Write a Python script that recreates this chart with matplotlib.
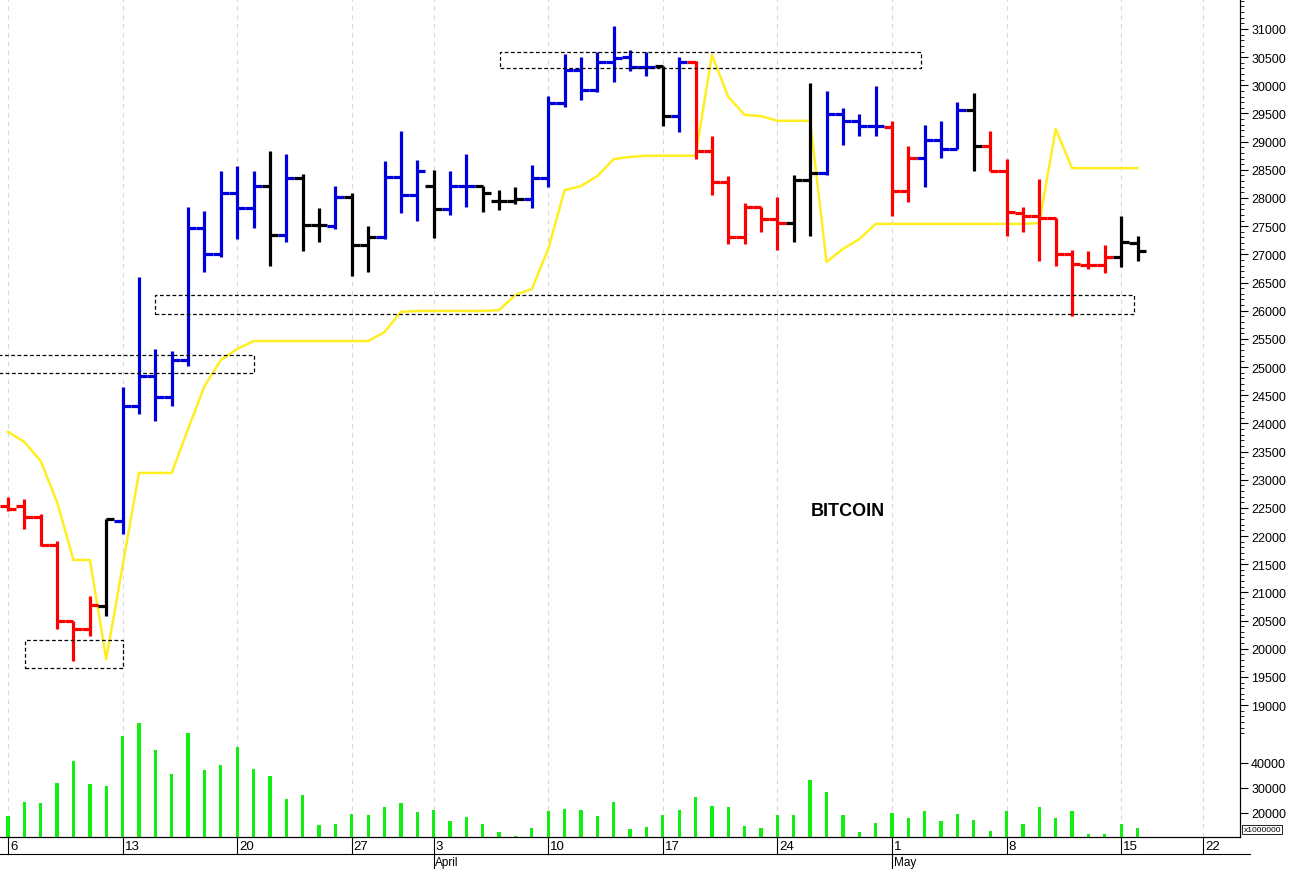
import matplotlib
matplotlib.use("Agg")
import matplotlib.pyplot as plt
import matplotlib.transforms as mtransforms
import numpy as np

plt.rcParams['font.family'] = ['Liberation Sans', 'DejaVu Sans']

opens  = [22530,22530,22340,21840,20490,20350,20760,22267,24310,24840,24470,25125,27470,27000,28090,27820,28210,27340,28355,27520,
          27500,28020,27165,27310,28370,28050,28210,27800,28210,28210,27945,27945,27980,28355,29690,30270,29920,30415,30500,30325,
          30345,29455,30415,28835,28285,27310,27840,27630,27555,28320,28445,29490,29365,29280,29260,28125,28710,29030,28870,29560,
          28920,28480,27735,27680,27645,27005,26810,26810,26950,27200]
highs  = [22690,22660,22390,21910,20490,20940,22300,24645,26600,25320,25285,27840,27770,28480,28570,28480,28835,28780,28430,27820,
          28210,28090,27500,28660,29190,28675,28500,28480,28780,28210,28140,28195,28590,29810,30560,30500,30590,31050,30625,30590,
          30345,30500,30430,29100,28390,27910,27840,28020,28410,30040,29900,29600,29490,29990,29370,28920,29300,29370,29700,29860,
          29190,28690,27840,28335,27645,27080,27060,27165,27680,27325]
lows   = [22440,22125,21820,20350,19780,20225,20580,22035,24165,24040,24310,25020,26690,26950,27270,27470,26790,27220,27060,27220,
          27450,26615,26690,27270,27735,27590,27290,27700,27840,27750,27790,27890,27820,28195,29615,29740,29880,30060,30255,30165,
          29280,29170,28690,28055,27185,27185,27395,27080,27220,27325,28410,28940,29100,29100,27680,27930,28195,28710,28870,28480,
          28480,27325,27395,26880,26790,25905,26740,26670,26775,26880]
closes = [22480,22340,21840,20490,20350,20776,22300,24310,24840,24470,25125,27470,27000,28090,27820,28210,27340,28355,27520,27520,
          28020,27165,27310,28370,28050,28480,27800,28210,28210,28090,27945,27980,28355,29690,30270,29920,30415,30485,30325,30325,
          29455,30415,28835,28285,27310,27840,27630,27555,28320,28445,29490,29365,29280,29280,28125,28710,29030,28870,29560,28920,
          28480,27750,27680,27645,27005,26830,26810,26950,27220,27060]
colors = (['r']*6 + ['k'] + ['b']*9 + ['k','b','k','k','b','k','k','b','b','b','k','b','b','k','k','k'] +
          ['b']*8 + ['k','b','r','r','r','r','r','r','k','k','b','b','b','b','r','r','b','b','b','k'] +
          ['r']*8 + ['k','k'])
yellow = [23850,23670,23330,22600,21575,21575,19815,21470,23120,23120,23120,23900,24660,25125,25320,25460,25460,25460,25460,25460,
          25460,25460,25460,25620,25980,25995,25995,25995,25995,25995,26010,26280,26385,27095,28140,28210,28390,28690,28730,28750,
          28750,28750,28750,30540,29795,29475,29455,29370,29370,29370,26865,27095,27270,27540,27540,27540,27540,27540,27540,27540,
          27540,27540,27540,27555,29225,28530,28530,28530,28530,28530]
volume = [18800,24270,24000,32000,40800,31600,30800,50800,56000,45200,35600,52000,37000,39200,46300,37600,34700,25700,27200,15000,
          15500,19600,19200,22400,24000,20300,21000,16800,18400,15500,12300,10700,13900,20700,21600,21000,18800,24300,13400,14400,
          19200,21200,26400,22700,22400,14700,14100,19200,19200,33200,28400,19300,12300,16000,19900,18000,20800,16800,19600,17200,
          12700,20800,15600,22400,18000,20800,11600,11500,15500,14100]
# support / resistance boxes: (x0, x1, y_low, y_high)
boxes = [(30.05, 55.8, 30310, 30590), (9.0, 68.8, 25940, 26280), (-0.6, 15.0, 24895, 25215), (1.04, 7.0, 19660, 20155)]
tick_pos = [0, 7, 14, 21, 26, 33, 40, 47, 54, 61, 68, 73]
tick_labels = ['6', '13', '20', '27', '3', '10', '17', '24', '1', '8', '15', '22']
months = [(26, 'April'), (54, 'May')]

cmap = {'r': '#ff0000', 'b': '#0000dd', 'k': '#000000'}

fig = plt.figure(figsize=(12.9, 8.7), dpi=100)
ax = fig.add_axes([0, 32/870, 1240/1290, 838/870])
axv = ax.twinx()
n = len(opens)
x = np.arange(n)
ax.set_xlim(-0.49, 75.26)
ax.set_ylim(16658, 31532)

for xv in tick_pos:
    ax.axvline(xv, color='#d8d8d8', lw=0.8, ls=(0, (4, 4)), zorder=0)

ax.plot(x, yellow, color='#ffee22', lw=1.8, zorder=2)
for i in range(n):
    c = cmap[colors[i]]
    ax.plot([i, i], [lows[i], highs[i]], color=c, lw=2.3, solid_capstyle='butt', zorder=3)
    ax.plot([i - 0.5, i], [opens[i], opens[i]], color=c, lw=2.3, solid_capstyle='butt', zorder=3)
    ax.plot([i, i + 0.5], [closes[i], closes[i]], color=c, lw=2.3, solid_capstyle='butt', zorder=3)

for x0, x1, y0, y1 in boxes:
    ax.add_patch(plt.Rectangle((x0, y0), x1 - x0, y1 - y0, fill=False, ec='black', lw=0.9,
                               ls=(0, (3, 2)), zorder=4))

ax.text(51.3, 22450, 'BITCOIN', fontsize=13, fontweight='bold', ha='center', va='center')

ax.yaxis.tick_right()
ax.yaxis.set_label_position('right')
ax.set_yticks(np.arange(19000, 31001, 500))
ax.set_yticks(np.arange(18500, 31501, 100), minor=True)
ax.tick_params(axis='y', which='major', left=False, right=True, labelleft=False, labelright=True,
               length=6, labelsize=9, direction='out', pad=2)
ax.tick_params(axis='y', which='minor', left=False, right=True, length=3, direction='out')
ax.set_xticks([])
for s in ['top', 'left']:
    ax.spines[s].set_visible(False)

# volume
axv.set_ylim(10300, 10300 + 838 * 400)
axv.bar(x, [v - 10300 for v in volume], bottom=10300, width=0.2, color='#11ee11', zorder=2)
axv.set_yticks([20000, 30000, 40000])
axv.tick_params(axis='y', length=6, labelsize=9, direction='out', pad=2)
for s in ['top', 'left']:
    axv.spines[s].set_visible(False)
axv.text(1.003, 0.005, 'x1000000', transform=axv.transAxes, fontsize=6, ha='left', va='bottom',
         bbox=dict(boxstyle='square,pad=0.15', fc='white', ec='black', lw=0.6))

# date axis
tr = mtransforms.blended_transform_factory(ax.transData, ax.transAxes)
for p, lab in zip(tick_pos, tick_labels):
    ax.plot([p, p], [0, -0.0203], color='black', lw=0.8, transform=tr, clip_on=False)
    ax.text(p + 0.12, -0.0035, lab, transform=tr, fontsize=9.5, ha='left', va='top')
for p, lab in months:
    ax.plot([p, p], [-0.0203, -0.04], color='black', lw=0.8, transform=tr, clip_on=False)
    ax.text(p + 0.1, -0.0225, lab, transform=tr, fontsize=8.5, ha='left', va='top')
ax.plot([-0.49, 75.9], [-0.0203, -0.0203], color='black', lw=0.8, transform=tr, clip_on=False)

fig.savefig('out.png', dpi=100)
